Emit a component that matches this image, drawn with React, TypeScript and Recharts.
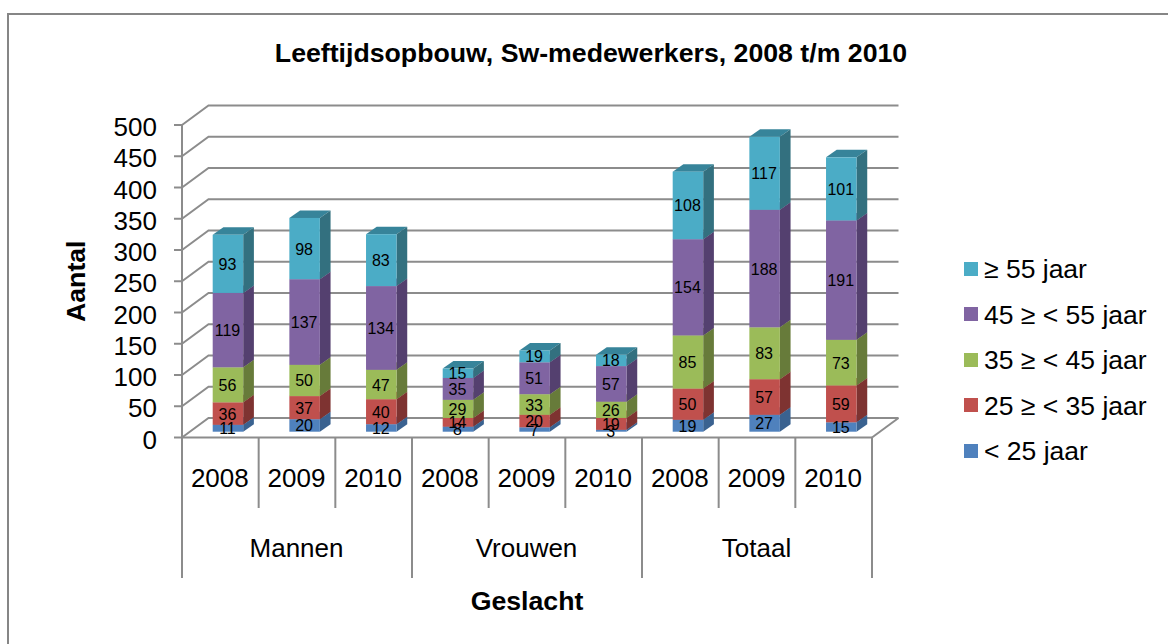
import React from 'react';
import { BarChart, Bar, XAxis, YAxis, CartesianGrid, LabelList, Legend } from 'recharts';

const years = ['2008', '2009', '2010', '2008', '2009', '2010', '2008', '2009', '2010'];
const groups = ['Mannen', 'Mannen', 'Mannen', 'Vrouwen', 'Vrouwen', 'Vrouwen', 'Totaal', 'Totaal', 'Totaal'];
const under25 = [11, 20, 12, 8, 7, 3, 19, 27, 15];
const from25 = [36, 37, 40, 14, 20, 19, 50, 57, 59];
const from35 = [56, 50, 47, 29, 33, 26, 85, 83, 73];
const from45 = [119, 137, 134, 35, 51, 57, 154, 188, 191];
const over55 = [93, 98, 83, 15, 19, 18, 108, 117, 101];
const yTicks = [0, 50, 100, 150, 200, 250, 300, 350, 400, 450, 500];

const seriesDefs = [
  { key: 'a', name: '< 25 jaar', values: under25, color: '#4F81BD', side: '#3A6290', top: '#4672A8' },
  { key: 'b', name: '25 ≥ < 35 jaar', values: from25, color: '#C0504D', side: '#7E3331', top: '#A84744' },
  { key: 'c', name: '35 ≥ < 45 jaar', values: from35, color: '#9BBB59', side: '#677B3A', top: '#89A54E' },
  { key: 'd', name: '45 ≥ < 55 jaar', values: from45, color: '#8064A2', side: '#54406F', top: '#71588F' },
  { key: 'e', name: '≥ 55 jaar', values: over55, color: '#4BACC6', side: '#33707F', top: '#37849A' },
];

const data = years.map((year, i) => {
  const row: Record<string, string | number> = { cat: `${groups[i]} ${year}`, year, group: groups[i] };
  seriesDefs.forEach((s) => { row[s.key] = s.values[i]; });
  return row;
});

const FONT = '"Liberation Sans", Arial, sans-serif';
const GREY = '#8C8C8C';
const DX = 7.7, DY = -5.8;
const DEPTH_X = 10.7, DEPTH_Y = -7.5;
const WALL_X = 26.5, WALL_Y = -19.5;
const STEP = 690 / 9;

const makeShape = (color: string, side: string, top: string) => (p: any) => {
  const x = p.x + DX, y = p.y + DY, w = p.width, h = p.height;
  return (
    <g>
      <polygon points={`${x},${y} ${x + DEPTH_X},${y + DEPTH_Y} ${x + w + DEPTH_X},${y + DEPTH_Y} ${x + w},${y}`} fill={top} />
      <polygon points={`${x + w},${y} ${x + w + DEPTH_X},${y + DEPTH_Y} ${x + w + DEPTH_X},${y + h + DEPTH_Y} ${x + w},${y + h}`} fill={side} />
      <rect x={x} y={y} width={w} height={h} fill={color} />
    </g>
  );
};

const dataLabel = (p: any) => (
  <text x={p.x + p.width / 2 + DX - 0.5} y={p.y + p.height / 2 + DY + 0.5} textAnchor="middle" dominantBaseline="central"
    fontFamily={FONT} fontSize={16} fill="#000">{p.value}</text>
);

const gridLine = (p: any) => {
  const { x1, x2, y1 } = p;
  const isFloor = Math.abs(y1 - 437.5) < 1;
  return (
    <g key={p.key} stroke={GREY} strokeWidth={2} fill="none">
      <path d={`M${x1},${y1} L${x1 + WALL_X},${y1 + WALL_Y} L${x2 + WALL_X},${y1 + WALL_Y}`} />
      {isFloor && <path d={`M${x2},${y1} L${x2 + WALL_X},${y1 + WALL_Y}`} />}
    </g>
  );
};

const xTick = (p: any) => {
  const { x, index, payload } = p;
  const i = index as number;
  const yTop = 437.5;
  return (
    <g>
      <line x1={x - STEP / 2} x2={x - STEP / 2} y1={yTop} y2={i % 3 === 0 ? 578 : 508} stroke={GREY} strokeWidth={2} />
      {i === years.length - 1 && <line x1={x + STEP / 2} x2={x + STEP / 2} y1={yTop} y2={578} stroke={GREY} strokeWidth={2} />}
      <text x={x - 0.5} y={487} textAnchor="middle" fontFamily={FONT} fontSize={26} fill="#000">{years[i] ?? payload.value}</text>
      {i % 3 === 1 && (
        <text x={x - 0.5} y={557} textAnchor="middle" fontFamily={FONT} fontSize={26} fill="#000">{groups[i]}</text>
      )}
    </g>
  );
};

const legendContent = () => (
  <div style={{ fontFamily: FONT, fontSize: 26.5, color: '#000' }}>
    {[...seriesDefs].reverse().map((s) => (
      <div key={s.key} style={{ display: 'flex', alignItems: 'center', height: 45.5, whiteSpace: 'nowrap' }}>
        <span style={{ width: 14, height: 14, background: s.color, marginRight: 6, flex: 'none' }} />
        <span style={{ position: 'relative', top: 1 }}>{s.name}</span>
      </div>
    ))}
  </div>
);

export default function App() {
  return (
    <div style={{ position: 'absolute', left: 0, top: 0, width: 1168, height: 644, background: '#fff', overflow: 'hidden' }}>
      <div style={{ position: 'absolute', left: 7, top: 13, width: 1161, height: 631, borderTop: '2px solid #868686', borderLeft: '2px solid #868686', boxSizing: 'border-box' }} />
      <div style={{ position: 'absolute', left: 0, top: 37, width: 1182, textAlign: 'center', fontFamily: FONT, fontWeight: 'bold', fontSize: 26.7, color: '#000', lineHeight: '32px' }}>
        Leeftijdsopbouw, Sw-medewerkers, 2008 t/m 2010
      </div>
      <BarChart width={1168} height={644} data={data} barCategoryGap={0} barSize={30.5}
        margin={{ top: 125, right: 96, bottom: 0, left: 62 }} style={{ position: 'absolute', left: 0, top: 0 }}>
        <CartesianGrid vertical={false} horizontal={gridLine} />
        <XAxis dataKey="cat" height={206.5} interval={0} axisLine={{ stroke: GREY, strokeWidth: 2 }} tickLine={false} tick={xTick}
          label={{ value: 'Geslacht', position: 'insideBottom', offset: 34, fontFamily: FONT, fontWeight: 'bold', fontSize: 26.7, fill: '#000' }} />
        <YAxis width={120} domain={[0, 500]} ticks={yTicks} interval={0} axisLine={{ stroke: GREY, strokeWidth: 2 }}
          tickLine={{ stroke: GREY, strokeWidth: 2 }} tickSize={8} tickMargin={17}
          tick={{ fontFamily: FONT, fontSize: 26, fill: '#000', dy: 2 }}
          label={{ value: 'Aantal', angle: -90, position: 'insideLeft', offset: 14, fontFamily: FONT, fontWeight: 'bold', fontSize: 26.7, fill: '#000', style: { textAnchor: 'middle' } }} />
        {seriesDefs.map((s) => (
          <Bar key={s.key} dataKey={s.key} name={s.name} stackId="all" isAnimationActive={false}
            shape={makeShape(s.color, s.side, s.top)}>
            <LabelList dataKey={s.key} content={dataLabel} />
          </Bar>
        ))}
        <Legend layout="vertical" align="right" verticalAlign="middle" content={legendContent} wrapperStyle={{ position: 'absolute', left: 964, top: 246, width: 200, height: 230 }} />
      </BarChart>
    </div>
  );
}
